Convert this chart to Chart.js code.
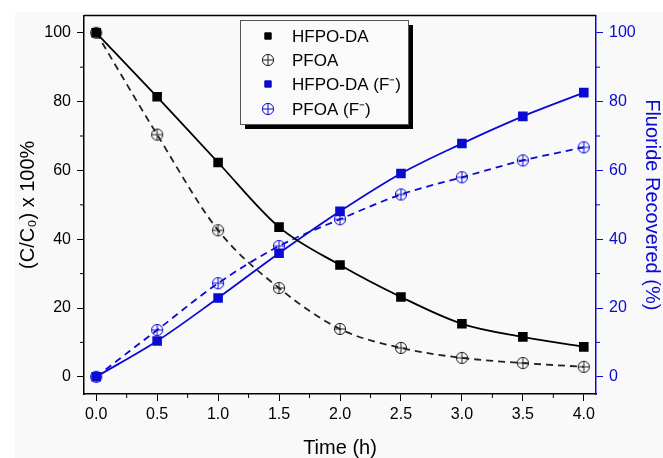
<!DOCTYPE html>
<html>
<head>
<meta charset="utf-8">
<script src="https://cdn.jsdelivr.net/npm/chart.js@4.4.1/dist/chart.umd.min.js"></script>
<style>
  html, body { margin: 0; padding: 0; background: #fff; }
</style>
</head>
<body>
<canvas id="chart" width="663" height="458"></canvas>
<script>
const times = [0, 0.5, 1, 1.5, 2, 2.5, 3, 3.5, 4];
const hfpoDa = [100, 81.4, 62.3, 43.5, 32.5, 23.2, 15.4, 11.6, 8.7];
const pfoa = [100, 70.4, 42.6, 25.8, 13.9, 8.4, 5.5, 4.0, 2.9];
const hfpoDaF = [0, 10.4, 22.9, 35.9, 48.1, 59.1, 67.8, 75.7, 82.6];
const pfoaF = [0, 13.6, 27.2, 38.0, 45.8, 53.0, 58.0, 62.9, 66.7];
const xTicks = [0, 0.5, 1, 1.5, 2, 2.5, 3, 3.5, 4];
const yTicks = [0, 20, 40, 60, 80, 100];

const BLUE = "#0a0ad2";
const FONT = "'Liberation Sans', Arial, sans-serif";

// circle with a plus inside, like the PFOA markers
function crossCircle(color) {
  const c = document.createElement("canvas");
  c.width = 14; c.height = 14;
  const g = c.getContext("2d");
  g.strokeStyle = color;
  g.lineWidth = 1;
  g.beginPath();
  g.arc(7, 7, 5.6, 0, 2 * Math.PI);
  g.moveTo(7, 1.4); g.lineTo(7, 12.6);
  g.moveTo(1.4, 7); g.lineTo(12.6, 7);
  g.stroke();
  return c;
}

function pts(ys) {
  return times.map((t, i) => ({ x: t, y: ys[i] }));
}

function series(label, ys, color, style, dashed, axis) {
  return {
    label: label,
    data: pts(ys),
    yAxisID: axis,
    showLine: true,
    borderColor: color,
    backgroundColor: color,
    borderWidth: 1.8,
    borderDash: dashed ? [7, 5] : [],
    cubicInterpolationMode: "monotone",
    pointStyle: style,
    pointRadius: style === "rect" ? 5.5 : 7,
    pointBorderColor: color,
    pointBackgroundColor: color
  };
}

const pfoaMark = crossCircle("#222");
const pfoaFMark = crossCircle(BLUE);

const bgPlugin = {
  id: "bg",
  beforeDraw(chart) {
    const ctx = chart.ctx;
    ctx.save();
    ctx.fillStyle = "#f9f9f9";
    ctx.fillRect(15, 12, chart.width - 15, chart.height - 12);
    ctx.restore();
  }
};

const framePlugin = {
  id: "frame",
  afterDraw(chart) {
    const ctx = chart.ctx;
    const a = chart.chartArea;
    const x = chart.scales.x, y = chart.scales.y, y2 = chart.scales.y2;
    ctx.save();
    // top border
    ctx.strokeStyle = "#000";
    ctx.lineWidth = 1.5;
    ctx.beginPath();
    ctx.moveTo(a.left, a.top);
    ctx.lineTo(a.right, a.top);
    ctx.stroke();
    // minor ticks
    ctx.lineWidth = 1;
    ctx.beginPath();
    for (let v = 0.25; v < 4; v += 0.5) {
      const px = x.getPixelForValue(v);
      ctx.moveTo(px, a.bottom); ctx.lineTo(px, a.bottom + 4);
    }
    for (let v = 10; v < 100; v += 20) {
      const py = y.getPixelForValue(v);
      ctx.moveTo(a.left, py); ctx.lineTo(a.left - 4, py);
    }
    ctx.stroke();
    ctx.strokeStyle = BLUE;
    ctx.beginPath();
    for (let v = 10; v < 100; v += 20) {
      const py = y2.getPixelForValue(v);
      ctx.moveTo(a.right, py); ctx.lineTo(a.right + 4, py);
    }
    ctx.stroke();

    // legend box with shadow
    const bx = 240, by = 20, bw = 168, bh = 104;
    ctx.fillStyle = "#000";
    ctx.fillRect(bx + 5, by + 5, bw, bh);
    ctx.fillStyle = "#fafafa";
    ctx.fillRect(bx, by, bw, bh);
    ctx.strokeStyle = "#555";
    ctx.lineWidth = 1;
    ctx.strokeRect(bx + 0.5, by + 0.5, bw, bh);
    const rows = [36, 60, 84, 109];
    chart.data.datasets.forEach((ds, i) => {
      ctx.fillStyle = ds.pointBackgroundColor;
      ctx.strokeStyle = ds.pointBorderColor;
      Chart.helpers.drawPoint(ctx, {
        pointStyle: ds.pointStyle,
        radius: ds.pointStyle === "rect" ? 4.5 : 7,
        rotation: 0,
        borderWidth: 1
      }, 268, rows[i]);
      ctx.fillStyle = "#000";
      ctx.font = "17px " + FONT;
      ctx.textBaseline = "middle";
      ctx.textAlign = "left";
      ctx.fillText(ds.label, 292, rows[i] + 1);
    });
    ctx.restore();
  }
};

new Chart(document.getElementById("chart").getContext("2d"), {
  type: "scatter",
  data: {
    datasets: [
      series("HFPO-DA", hfpoDa, "#000", "rect", false, "y"),
      series("PFOA", pfoa, "#222", pfoaMark, true, "y"),
      series("HFPO-DA (F\u207B)", hfpoDaF, BLUE, "rect", false, "y2"),
      series("PFOA (F\u207B)", pfoaF, BLUE, pfoaFMark, true, "y2")
    ]
  },
  options: {
    responsive: false,
    animation: false,
    layout: { padding: { top: 13, left: 0, right: 0, bottom: 0 } },
    plugins: {
      legend: { display: false },
      tooltip: { enabled: false }
    },
    scales: {
      x: {
        type: "linear",
        min: -0.1,
        max: 4.1,
        afterBuildTicks(scale) { scale.ticks = xTicks.map(v => ({ value: v })); },
        afterFit(scale) { scale.height = 64; },
        border: { color: "#000", width: 1.5 },
        grid: { drawOnChartArea: false, tickLength: 7, tickColor: "#000", tickWidth: 1 },
        ticks: {
          color: "#000",
          font: { size: 16, family: FONT },
          padding: 4,
          maxRotation: 0,
          callback: v => v.toFixed(1)
        },
        title: {
          display: true,
          text: "Time (h)",
          color: "#000",
          font: { size: 20, family: FONT, lineHeight: 1 },
          padding: { top: 0, bottom: 0 }
        }
      },
      y: {
        type: "linear",
        position: "left",
        min: -5,
        max: 105,
        afterBuildTicks(scale) { scale.ticks = yTicks.map(v => ({ value: v })); },
        afterFit(scale) { scale.width = 84; },
        border: { color: "#000", width: 1.5 },
        grid: { drawOnChartArea: false, tickLength: 7, tickColor: "#000", tickWidth: 1 },
        ticks: {
          color: "#000",
          font: { size: 16, family: FONT },
          padding: 6
        },
        title: {
          display: true,
          text: "(C/C\u2080) x 100%",
          color: "#000",
          font: { size: 20, family: FONT, lineHeight: 1 },
          padding: { top: 18, bottom: 0 }
        }
      },
      y2: {
        type: "linear",
        position: "right",
        min: -5,
        max: 105,
        afterBuildTicks(scale) { scale.ticks = yTicks.map(v => ({ value: v })); },
        afterFit(scale) { scale.width = 67; },
        border: { color: BLUE, width: 1.5 },
        grid: { drawOnChartArea: false, tickLength: 7, tickColor: BLUE, tickWidth: 1 },
        ticks: {
          color: BLUE,
          font: { size: 16, family: FONT },
          padding: 6
        },
        title: {
          display: true,
          text: "Fluoride Recovered (%)",
          color: BLUE,
          font: { size: 20, family: FONT, lineHeight: 1 },
          padding: { top: 1, bottom: 0 }
        }
      }
    }
  },
  plugins: [bgPlugin, framePlugin]
});
</script>
</body>
</html>
